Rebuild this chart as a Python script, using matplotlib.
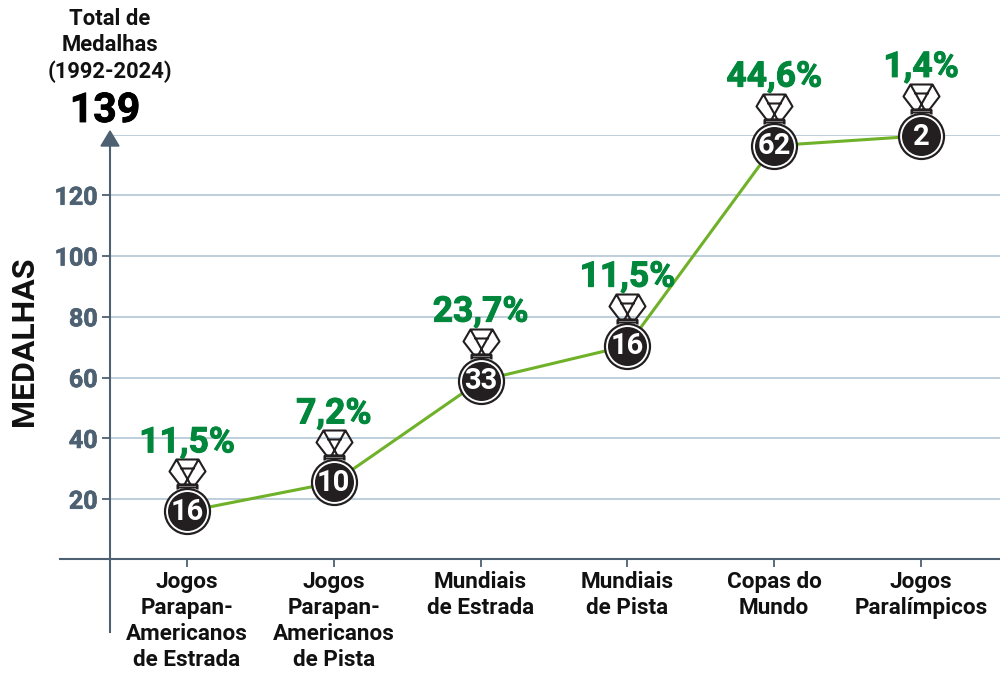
import matplotlib
matplotlib.use("Agg")
import matplotlib.pyplot as plt
import matplotlib.patheffects as pe
from matplotlib.path import Path
import numpy as np

categories = ["Jogos\nParapan-\nAmericanos\nde Estrada", "Jogos\nParapan-\nAmericanos\nde Pista",
              "Mundiais\nde Estrada", "Mundiais\nde Pista", "Copas do\nMundo", "Jogos\nParalímpicos"]
cumulative = [16, 25.5, 59, 70.5, 136.3, 139.5]
medals = [16, 10, 33, 16, 62, 2]
shares = ["11,5%", "7,2%", "23,7%", "11,5%", "44,6%", "1,4%"]
yticks = [20, 40, 60, 80, 100, 120]

plt.rcParams['font.family'] = ['Roboto', 'DejaVu Sans']
W, H = 1000, 675
fig = plt.figure(figsize=(W/100, H/100), dpi=100)
L, R, T, B = 110, 1000, 135, 560
ymax = (B-T)/3.04
ax = fig.add_axes([L/W, 1-B/H, (R-L)/W, (B-T)/H])
ax.set_ylim(0, ymax)
ax.set_xlim(-(187-L)/146.8, (R-187)/146.8)
AX = '#4d6172'; GRID = '#b4c6d6'; GREEN = '#6fb128'; TXT = '#00873c'; DK = '#231f20'
for s in ('top', 'right', 'left', 'bottom'):
    ax.spines[s].set_visible(False)
ax.patch.set_alpha(0)
ax.set_yticks(yticks + [ymax], labels=[str(v) for v in yticks] + [''])
ax.set_xticks(range(6), labels=categories)
ax.grid(axis='y', color=GRID, lw=1.2, zorder=1)
ax.tick_params(axis='y', length=6, width=1.3, color=AX, pad=3, labelsize=18, labelcolor=AX)
thick = [pe.withStroke(linewidth=0.5, foreground=AX)]
for lb in ax.get_yticklabels():
    lb.set_fontweight('bold'); lb.set_path_effects(thick)
ax.tick_params(axis='x', length=5, width=1.3, color=AX, pad=3, labelsize=16.2, labelcolor='#111111')
for lb in ax.get_xticklabels():
    lb.set_fontweight('bold'); lb.set_linespacing(1.24); lb.set_va('top')
ax.yaxis.get_major_ticks()[-1].tick1line.set_visible(False)

def fx(x): return x/W
def fy(y): return 1-y/H
fig.add_artist(plt.Line2D([fx(60), fx(1000)], [fy(559), fy(559)], color=AX, lw=1.5))
fig.add_artist(plt.Line2D([fx(110), fx(110)], [fy(632), fy(145)], color=AX, lw=1.5))
fig.add_artist(plt.Polygon([[fx(101), fy(146)], [fx(119), fy(146)], [fx(110), fy(131)]], color=AX))

x = np.arange(len(categories))
ax.plot(x, cumulative, color=GREEN, lw=2.2, zorder=3)

def px(v): return v*0.72
ax.plot(x, cumulative, ls='', marker='o', ms=px(45), mfc='white', mec=DK, mew=1.6, zorder=4, clip_on=False)
ax.plot(x, cumulative, ls='', marker='o', ms=px(39), mfc=DK, mec=DK, mew=0, zorder=5, clip_on=False)

Rm = 60.0
out = [(-8, 27), (-18, 40), (-11, 52), (11, 52), (18, 40), (8, 27), (-3, 27), (-8, 27)]
verts, codes = [], []
def add(pts):
    for i, p in enumerate(pts):
        verts.append(p); codes.append(Path.MOVETO if i == 0 else Path.LINETO)
add(out)
add([(-11, 52), (3, 27)])
add([(11, 52), (-3, 27)])
add([(-7, 43), (7, 43)])
add([(-10, 27), (-10, 22)])
add([(10, 27), (10, 22)])
add([(-10, 26.5), (10, 26.5)])
add([(-10, 24), (10, 24)])
add([(-Rm, 0), (-Rm, 0)])
ribbon = Path(verts, codes)
ax.plot(x, cumulative, ls='', marker=ribbon, ms=px(2*Rm), mfc='none', mec=DK, mew=1.5, zorder=4, clip_on=False)

for xi, yi, m, s in zip(x, cumulative, medals, shares):
    ax.annotate(str(m), (xi, yi), xytext=(0, -0.5), textcoords='offset points', ha='center', va='center',
                color='white', fontsize=21, fontweight='bold', zorder=6, annotation_clip=False)
    ax.annotate(s, (xi, yi), xytext=(0, px(52)), textcoords='offset points', ha='center', va='bottom',
                color=TXT, fontsize=25.5, fontweight='bold', zorder=6, annotation_clip=False,
                path_effects=[pe.withStroke(linewidth=0.7, foreground=TXT)])

fig.text(fx(24), fy(341), "MEDALHAS", rotation=90, ha='center', va='center', fontsize=23, fontweight='bold', color='#111111')
fig.text(fx(110), fy(45.5), "Total de\nMedalhas\n(1992-2024)", ha='center', va='center', fontsize=15.8,
         fontweight='bold', color='#111111', linespacing=1.24)
fig.text(fx(105), fy(111), "139", ha='center', va='center', fontsize=29.5, fontweight='bold', color='#000000',
         path_effects=[pe.withStroke(linewidth=0.6, foreground='#000000')])
fig.savefig('out.png', dpi=100)
